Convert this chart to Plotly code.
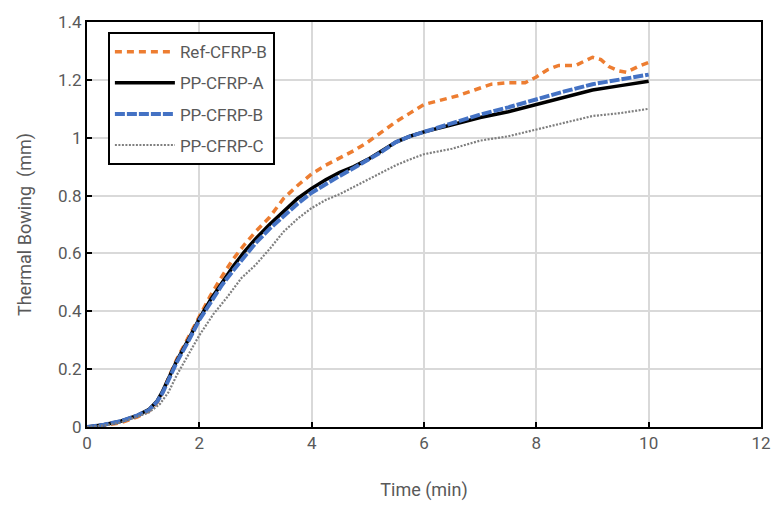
import plotly.graph_objects as go

FONT = "Liberation Sans Narrow, Roboto, sans-serif"

# ---- data ----
t_ref = [0, 0.3, 0.6, 0.9, 1.1, 1.25, 1.35, 1.45, 1.6, 1.8, 2.0, 2.2, 2.4, 2.6, 2.8, 3.0,
         3.25, 3.5, 3.75, 4.0, 4.25, 4.5, 4.75, 5.0, 5.25, 5.5, 5.75, 6.0, 6.3, 6.6, 6.9,
         7.2, 7.5, 7.8, 8.0, 8.2, 8.4, 8.7, 9.0, 9.15, 9.3, 9.45, 9.6, 9.8, 10.0]
v_ref = [0, 0.005, 0.015, 0.035, 0.055, 0.085, 0.12, 0.17, 0.235, 0.31, 0.385, 0.455, 0.52,
         0.58, 0.63, 0.675, 0.725, 0.79, 0.835, 0.875, 0.905, 0.93, 0.955, 0.985, 1.02, 1.055,
         1.085, 1.115, 1.13, 1.145, 1.165, 1.185, 1.19, 1.19, 1.21, 1.235, 1.25, 1.25, 1.278,
         1.27, 1.245, 1.232, 1.226, 1.245, 1.26]

t_ab = [0, 0.3, 0.6, 0.9, 1.1, 1.25, 1.35, 1.45, 1.6, 1.8, 2.0, 2.2, 2.4, 2.6, 2.8, 3.0,
        3.25, 3.5, 3.75, 4.0, 4.25, 4.5, 4.75, 5.0, 5.25, 5.5, 5.75, 6.0, 6.5, 7.0, 7.5,
        8.0, 8.5, 9.0, 9.5, 10.0]
v_a = [0, 0.008, 0.02, 0.04, 0.06, 0.09, 0.125, 0.17, 0.23, 0.30, 0.375, 0.44, 0.50, 0.555,
       0.605, 0.65, 0.70, 0.745, 0.79, 0.825, 0.855, 0.88, 0.90, 0.925, 0.955, 0.985, 1.005,
       1.02, 1.045, 1.07, 1.09, 1.114, 1.14, 1.165, 1.18, 1.195]
v_b = [0, 0.008, 0.02, 0.04, 0.058, 0.088, 0.12, 0.165, 0.225, 0.295, 0.37, 0.43, 0.49, 0.54,
       0.59, 0.635, 0.685, 0.73, 0.772, 0.81, 0.84, 0.868, 0.895, 0.922, 0.952, 0.985, 1.005,
       1.02, 1.05, 1.08, 1.105, 1.134, 1.16, 1.185, 1.20, 1.218]

t_c = [0, 0.3, 0.6, 0.9, 1.1, 1.3, 1.45, 1.6, 1.8, 2.0, 2.25, 2.5, 2.75, 3.0, 3.25, 3.5,
       3.75, 4.0, 4.25, 4.5, 4.75, 5.0, 5.25, 5.5, 5.75, 6.0, 6.5, 7.0, 7.5, 8.0, 8.5, 9.0,
       9.5, 10.0]
v_c = [0, 0.005, 0.015, 0.035, 0.05, 0.08, 0.12, 0.18, 0.25, 0.317, 0.39, 0.45, 0.515, 0.56,
       0.615, 0.675, 0.72, 0.757, 0.785, 0.805, 0.83, 0.855, 0.88, 0.905, 0.925, 0.943, 0.962,
       0.99, 1.005, 1.028, 1.05, 1.075, 1.085, 1.10]

x_ticks = [0, 2, 4, 6, 8, 10, 12]
y_ticks = [0, 0.2, 0.4, 0.6, 0.8, 1, 1.2, 1.4]

fig = go.Figure()
fig.add_trace(go.Scatter(x=t_ref, y=v_ref, mode="lines", name="Ref-CFRP-B", legendgroup="a",
                         line=dict(color="#ED7D31", width=3.5, dash="7px,5px")))
fig.add_trace(go.Scatter(x=t_ab, y=v_a, mode="lines", name="PP-CFRP-A", legendgroup="b",
                         line=dict(color="#000000", width=3.5)))
fig.add_trace(go.Scatter(x=t_ab, y=v_b, mode="lines", name="PP-CFRP-B", legendgroup="c",
                         line=dict(color="#4472C4", width=4, dash="10px,2px")))
fig.add_trace(go.Scatter(x=t_c, y=v_c, mode="lines", name="PP-CFRP-C", legendgroup="d",
                         line=dict(color="#7F7F7F", width=2.2, dash="2px,1.5px")))

axis_common = dict(
    showline=True, linecolor="black", linewidth=2, mirror=True,
    ticks="inside", ticklen=5, tickwidth=1.5, tickcolor="black",
    showgrid=True, gridcolor="#d9d9d9", gridwidth=2, zeroline=False,
    tickfont=dict(family=FONT, size=17, color="#595959"),
)

fig.update_xaxes(range=[0, 12], tickvals=x_ticks, ticktext=[str(v) for v in x_ticks],
                 title=dict(text="Time (min)", font=dict(family=FONT, size=18, color="#595959"),
                            standoff=31),
                 **axis_common)
fig.update_yaxes(range=[0, 1.4], tickvals=y_ticks, ticktext=[f"{v:g}" for v in y_ticks],
                 title=dict(text="Thermal Bowing  (mm)", font=dict(family=FONT, size=18, color="#595959"),
                            standoff=22),
                 **axis_common)

fig.update_layout(
    width=783, height=509,
    margin=dict(l=87, r=13, t=18, b=79),
    paper_bgcolor="white", plot_bgcolor="white",
    showlegend=True,
    legend=dict(x=0.031, y=0.975, xanchor="left", yanchor="top",
                bgcolor="white", bordercolor="black", borderwidth=2,
                font=dict(family=FONT, size=17, color="#595959"),
                traceorder="grouped", tracegroupgap=6, itemwidth=60),
)

fig.write_html("out.html", config={"displayModeBar": False},
               post_script="document.body.style.margin='0';")
